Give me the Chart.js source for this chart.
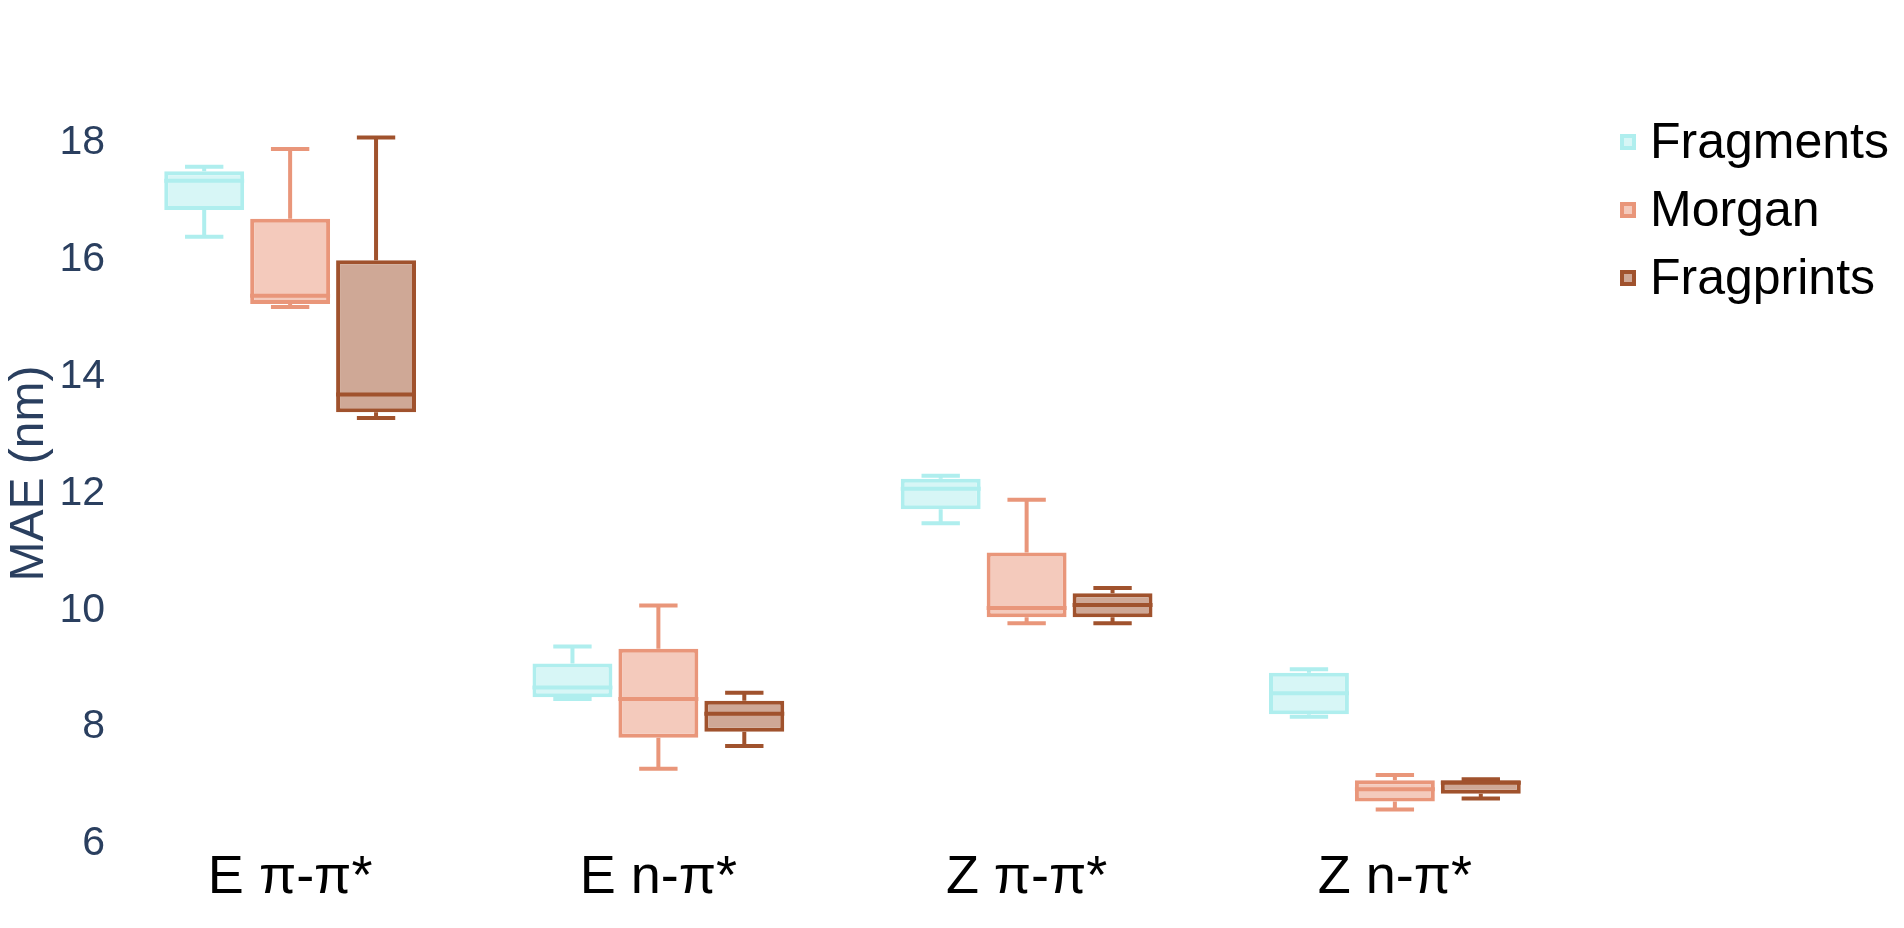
<!DOCTYPE html>
<html>
<head>
<meta charset="utf-8">
<script src="https://cdn.jsdelivr.net/npm/chart.js@4.4.1/dist/chart.umd.min.js"></script>
<style>
    html, body { margin: 0; padding: 0; background: #ffffff; }
    canvas { display: block; }
</style>
</head>
<body>
<canvas id="maeChart" width="1904" height="928"></canvas>
<script>
// categories and series
const categories = ['E π-π*', 'E n-π*', 'Z π-π*', 'Z n-π*'];
const seriesNames = ['Fragments', 'Morgan', 'Fragprints'];

// box stats per category: [min, q1, median, q3, max]
const fragmentsStats = [
    [16.39, 16.85, 17.35, 17.51, 17.59],
    [8.48, 8.51, 8.68, 9.09, 9.38],
    [11.49, 11.73, 12.08, 12.25, 12.30],
    [8.18, 8.22, 8.58, 8.93, 8.99]
];
const morganStats = [
    [15.19, 15.24, 15.38, 16.70, 17.89],
    [7.29, 7.82, 8.48, 9.34, 10.08],
    [9.78, 9.88, 10.04, 10.99, 11.89],
    [6.59, 6.73, 6.94, 7.09, 7.18]
];
const fragprintsStats = [
    [13.29, 13.39, 13.69, 15.99, 18.09],
    [7.68, 7.92, 8.23, 8.45, 8.59],
    [9.78, 9.88, 10.09, 10.29, 10.38],
    [6.78, 6.86, 7.05, 7.09, 7.11]
];

const yTicks = [6, 8, 10, 12, 14, 16, 18];

const lineColors = ['#afeeee', '#e9967a', '#a0522d'];
const fillColors = ['#d7f6f6', '#f4cabc', '#cfa896'];

const allStats = [fragmentsStats, morganStats, fragprintsStats];

const datasets = seriesNames.map((name, i) => ({
    label: name,
    stats: allStats[i],
    data: allStats[i].map(s => [s[1], s[3]]), // box = q1..q3
    backgroundColor: fillColors[i],
    borderColor: lineColors[i],
    borderWidth: 4,
    borderSkipped: false,
    barPercentage: 0.93,
    categoryPercentage: 0.70
}));

// whiskers behind boxes, medians on top
function drawBoxParts(chart, part) {
    const ctx = chart.ctx;
    const y = chart.scales.y;
    chart.data.datasets.forEach((ds, di) => {
        const meta = chart.getDatasetMeta(di);
        meta.data.forEach((bar, i) => {
            const [min, q1, med, q3, max] = ds.stats[i];
            const half = bar.width / 2;
            const cap = bar.width * 0.24;
            ctx.save();
            ctx.strokeStyle = ds.borderColor;
            ctx.lineWidth = 4;
            ctx.beginPath();
            if (part === 'whisker') {
                ctx.moveTo(bar.x, y.getPixelForValue(q3));
                ctx.lineTo(bar.x, y.getPixelForValue(max));
                ctx.moveTo(bar.x - cap, y.getPixelForValue(max));
                ctx.lineTo(bar.x + cap, y.getPixelForValue(max));
                ctx.moveTo(bar.x, y.getPixelForValue(q1));
                ctx.lineTo(bar.x, y.getPixelForValue(min));
                ctx.moveTo(bar.x - cap, y.getPixelForValue(min));
                ctx.lineTo(bar.x + cap, y.getPixelForValue(min));
            } else {
                ctx.moveTo(bar.x - half, y.getPixelForValue(med));
                ctx.lineTo(bar.x + half, y.getPixelForValue(med));
            }
            ctx.stroke();
            ctx.restore();
        });
    });
}

const boxWhiskers = {
    id: 'boxWhiskers',
    beforeDatasetsDraw(chart) { drawBoxParts(chart, 'whisker'); },
    afterDatasetsDraw(chart) { drawBoxParts(chart, 'median'); }
};

// legend on the right, plotly style
const sideLegend = {
    id: 'sideLegend',
    afterDraw(chart) {
        const ctx = chart.ctx;
        const x0 = 1620, y0 = 142, step = 68, size = 16;
        ctx.save();
        chart.data.datasets.forEach((ds, i) => {
            const cy = y0 + i * step;
            ctx.fillStyle = ds.borderColor;
            ctx.fillRect(x0, cy - size / 2, size, size);
            ctx.fillStyle = ds.backgroundColor;
            ctx.fillRect(x0 + 4, cy - size / 2 + 4, size - 8, size - 8);
            ctx.fillStyle = '#000000';
            ctx.font = '50px "Liberation Sans", Arial, sans-serif';
            ctx.textAlign = 'left';
            ctx.textBaseline = 'middle';
            ctx.fillText(ds.label, 1650, cy + 2);
        });
        ctx.restore();
    }
};

new Chart(document.getElementById('maeChart'), {
    type: 'bar',
    data: { labels: categories, datasets: datasets },
    plugins: [boxWhiskers, sideLegend],
    options: {
        responsive: false,
        animation: false,
        layout: { padding: { top: 100, right: 325, bottom: 0, left: 0 } },
        plugins: {
            legend: { display: false },
            tooltip: { enabled: false }
        },
        scales: {
            x: {
                grid: { display: false, drawTicks: false },
                border: { display: false },
                ticks: {
                    color: '#000000',
                    padding: 4,
                    font: { family: '"Liberation Sans", Arial, sans-serif', size: 54, lineHeight: 1 }
                },
                afterFit: (scale) => { scale.height = 81; }
            },
            y: {
                min: 5.95,
                max: 18.73,
                grid: { display: false, drawTicks: false },
                border: { display: false },
                afterBuildTicks: (scale) => { scale.ticks = yTicks.map(v => ({ value: v })); },
                ticks: {
                    color: '#2a3f5f',
                    padding: 1,
                    font: { family: '"Liberation Sans", Arial, sans-serif', size: 41 }
                },
                title: {
                    display: true,
                    text: 'MAE (nm)',
                    color: '#2a3f5f',
                    padding: { top: 6, bottom: 0 },
                    font: { family: '"Liberation Sans", Arial, sans-serif', size: 48, lineHeight: 1 }
                },
                afterFit: (scale) => { scale.width = 106; }
            }
        }
    }
});
</script>
</body>
</html>
